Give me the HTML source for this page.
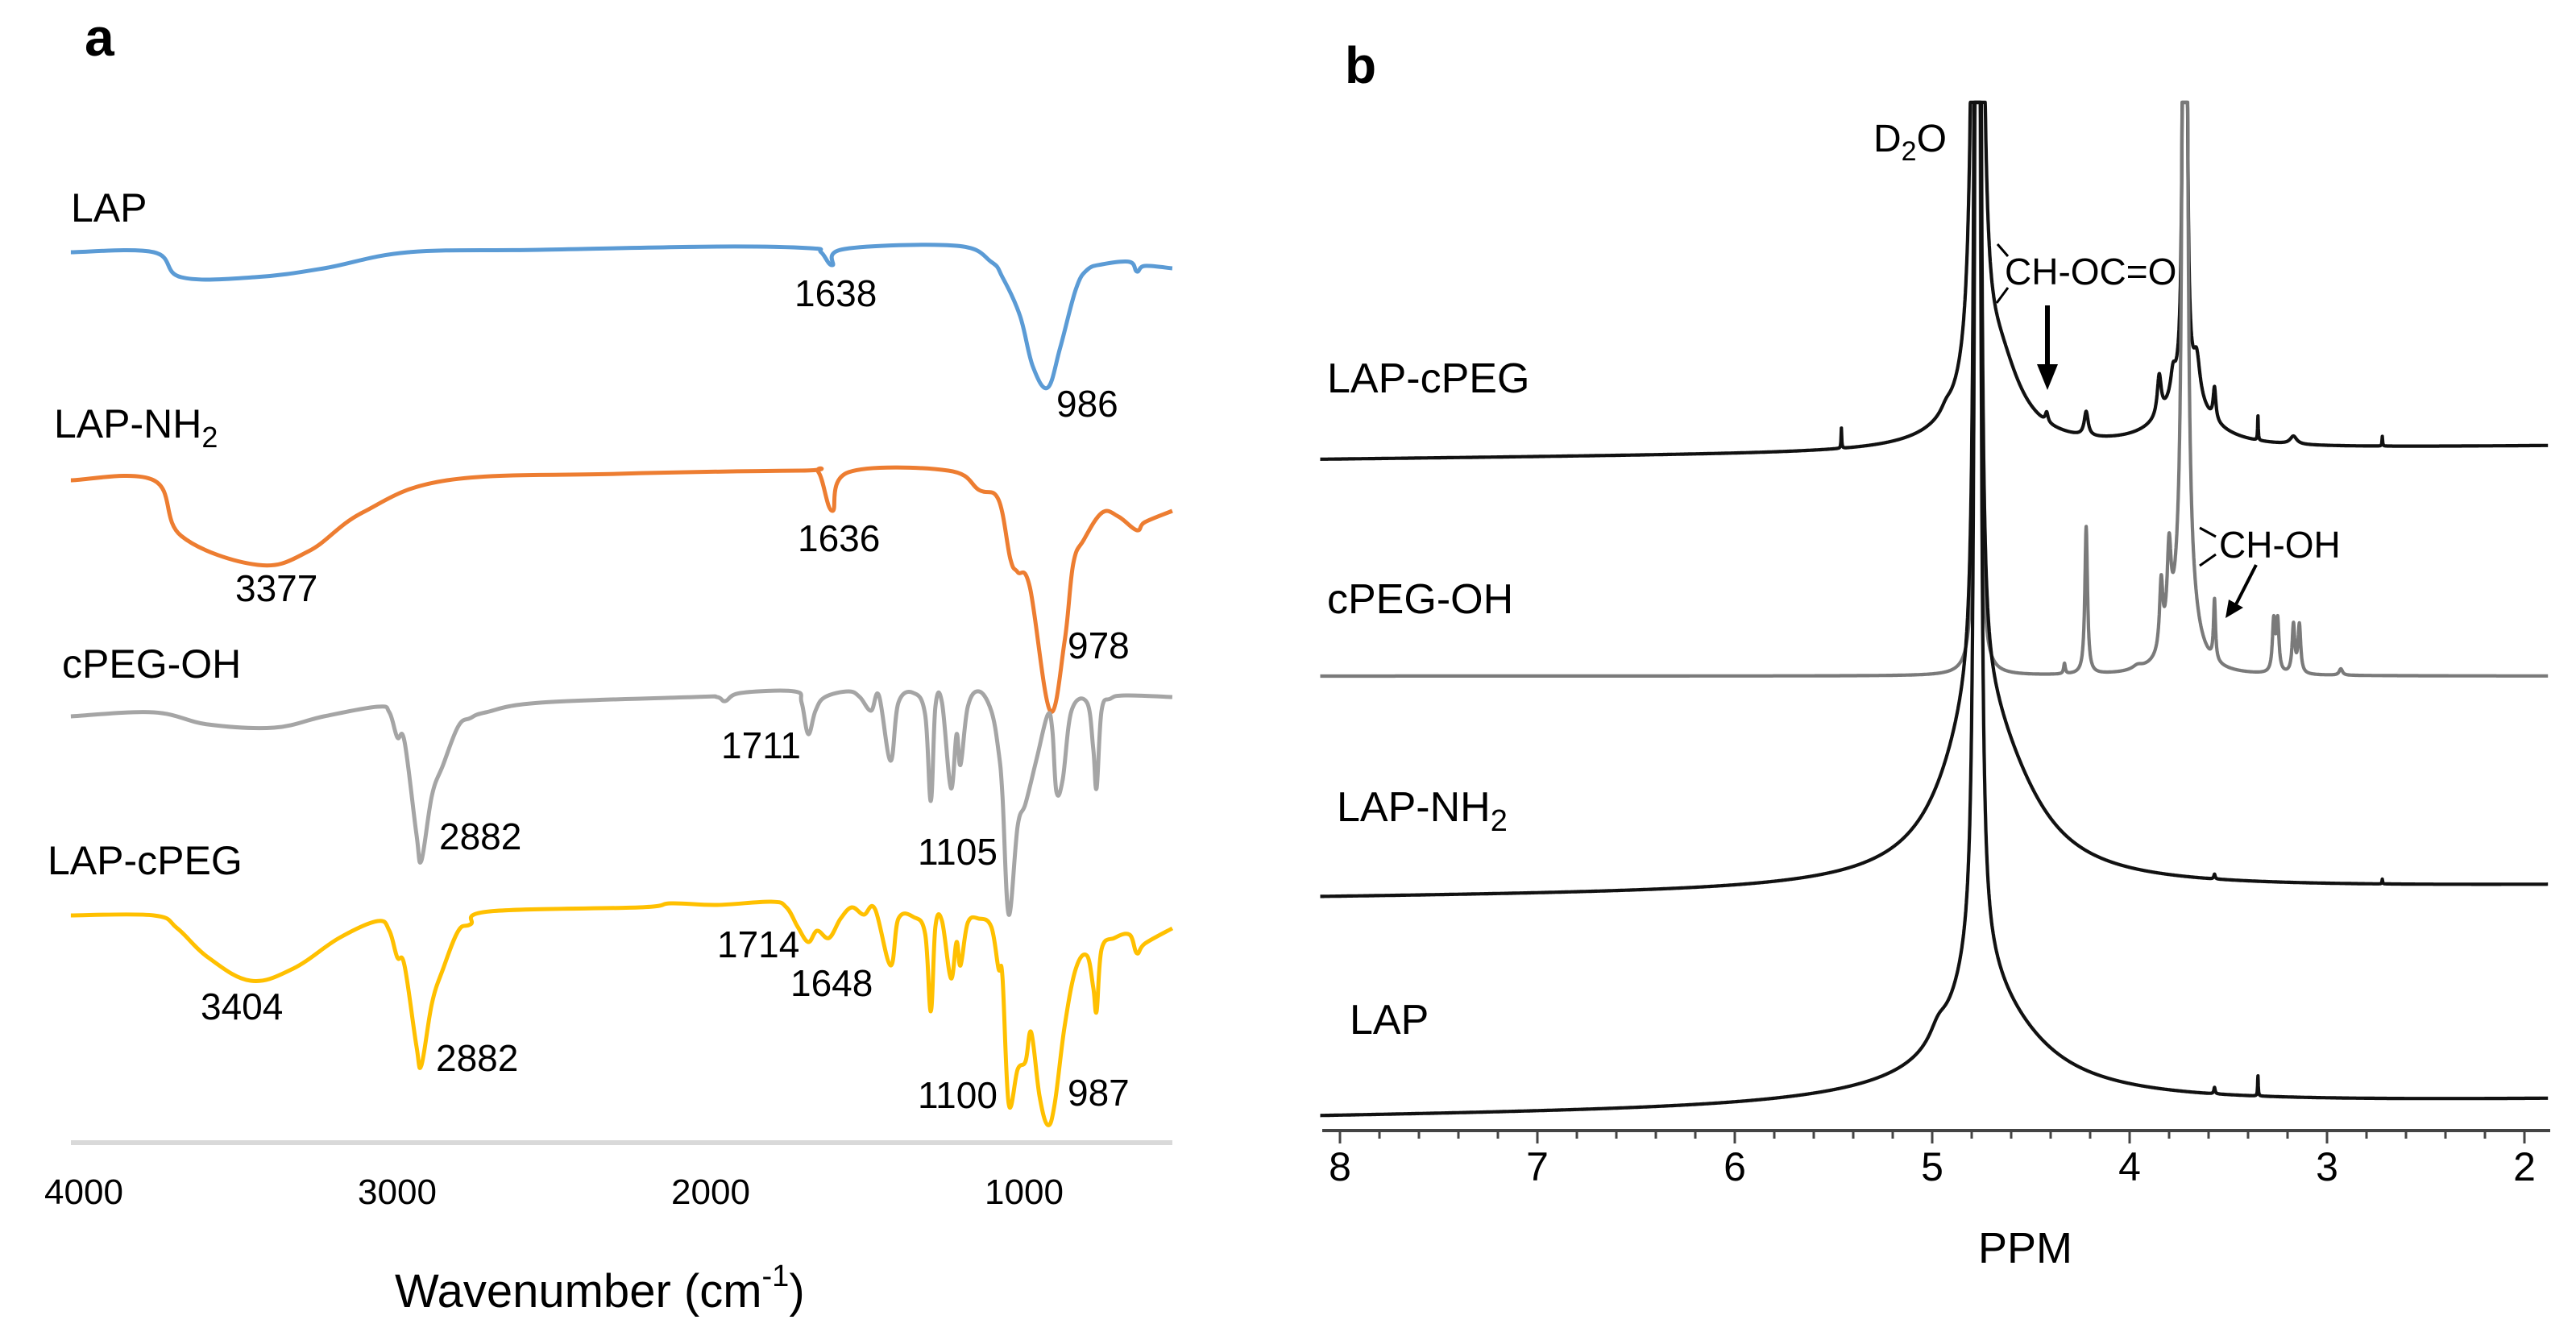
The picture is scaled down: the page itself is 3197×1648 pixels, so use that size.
<!DOCTYPE html>
<html><head><meta charset="utf-8">
<style>
html,body{margin:0;padding:0;background:#fff;}
svg{display:block;}
text{font-family:"Liberation Sans",Arial,sans-serif;fill:#000;}
</style></head>
<body>
<svg id="fig" width="3197" height="1648" viewBox="0 0 3197 1648" xmlns="http://www.w3.org/2000/svg">
  <rect width="3197" height="1648" fill="#fff"/>
  <g id="panelA">
    <text x="105" y="69" font-size="66" font-weight="bold">a</text>
    <line x1="88" y1="1418" x2="1455" y2="1418" stroke="#d9d9d9" stroke-width="6"/>
    <g id="irTicks"></g>
    <text x="490" y="1622" font-size="58">Wavenumber (cm<tspan dy="-26" font-size="38">-1</tspan><tspan dy="26">)</tspan></text>
    <g id="irCurves"></g>
    <text x="88" y="275" font-size="50">LAP</text>
    <text x="67" y="543" font-size="50">LAP-NH<tspan dy="12" font-size="36">2</tspan></text>
    <text x="77" y="841" font-size="50">cPEG-OH</text>
    <text x="59" y="1085" font-size="50">LAP-cPEG</text>
    <g font-size="46">
      <text x="986" y="380">1638</text>
      <text x="1311" y="517">986</text>
      <text x="990" y="684">1636</text>
      <text x="292" y="746">3377</text>
      <text x="1325" y="817">978</text>
      <text x="895" y="941">1711</text>
      <text x="545" y="1054">2882</text>
      <text x="1139" y="1073">1105</text>
      <text x="249" y="1265">3404</text>
      <text x="541" y="1329">2882</text>
      <text x="890" y="1188">1714</text>
      <text x="981" y="1236">1648</text>
      <text x="1139" y="1375">1100</text>
      <text x="1325" y="1372">987</text>
    </g>
  </g>
  <g id="panelB">
    <text x="1669" y="103" font-size="64" font-weight="bold">b</text>
    <g id="nmrCurves"></g>
    <line x1="1641" y1="1403" x2="3165" y2="1403" stroke="#444" stroke-width="4"/>
    <g id="nmrTicks"></g>
    <text x="2455" y="1567" font-size="54">PPM</text>
    <text x="1647" y="487" font-size="52">LAP-cPEG</text>
    <text x="1647" y="761" font-size="52">cPEG-OH</text>
    <text x="1659" y="1019" font-size="52">LAP-NH<tspan dy="12" font-size="38">2</tspan></text>
    <text x="1675" y="1283" font-size="52">LAP</text>
    <text x="2325" y="188" font-size="48">D<tspan dy="11" font-size="34">2</tspan><tspan dy="-11">O</tspan></text>
    <g>
      <text x="2488" y="353" font-size="46">CH-OC=O</text>
      <line x1="2479" y1="303" x2="2492" y2="318" stroke="#000" stroke-width="3"/>
      <line x1="2478" y1="376" x2="2492" y2="357" stroke="#000" stroke-width="3"/>
      <line x1="2541" y1="379" x2="2541" y2="458" stroke="#000" stroke-width="6"/>
      <polygon points="2528,452 2554,452 2541,484" fill="#000"/>
    </g>
    <g>
      <text x="2754" y="692" font-size="46">CH-OH</text>
      <line x1="2730" y1="655" x2="2750" y2="666" stroke="#000" stroke-width="3"/>
      <line x1="2730" y1="702" x2="2750" y2="688" stroke="#000" stroke-width="3"/>
      <line x1="2800" y1="701" x2="2774" y2="752" stroke="#000" stroke-width="4"/>
      <polygon points="2762,767 2766,744 2784,754" fill="#000"/>
    </g>
  </g>
</svg>
<script>
const irTickValues = [4000, 3000, 2000, 1000];
const lapWn = [3943,3692,3609,3387,3177,2921,2523,1987,1706,1672,1638,1601,1262,1157,1123,1070,1031,986,948,901,867,821,738,716,692,609];
const lapDepth = [8,8,39,39,28,8,5,1,3,8,24,4,0,20,39,87,150,176,126,54,30,23,20,32,25,28];
const nh2Wn = [3943,3692,3609,3377,3223,3060,2804,2289,1731,1680,1638,1589,1287,1194,1135,1099,1077,1040,979,935,909,877,821,772,716,692,609];
const nh2Depth = [12,12,81,117,100,52,12,4,0,2,50,2,0,24,36,110,126,145,298,212,116,86,52,57,74,64,50];
const cpegWn = [3943,3692,3528,3328,3177,3014,2979,2955,2933,2897,2882,2850,2816,2770,2733,2687,2523,2057,1987,1962,1916,1753,1731,1711,1689,1660,1589,1555,1521,1497,1462,1438,1392,1357,1340,1326,1306,1279,1262,1250,1228,1194,1157,1135,1123,1104,1077,1053,1018,986,972,960,941,914,867,848,838,823,796,750,609];
const cpegDepth = [31,26,41,45,31,19,26,57,62,177,210,129,91,43,33,26,14,7,7,12,2,0,14,53,24,7,0,7,24,5,86,14,2,29,136,19,14,120,53,91,19,0,24,74,129,277,167,139,81,29,48,124,110,24,14,72,120,24,9,5,7];
const lcWn = [3943,3692,3621,3528,3399,3270,3131,3014,2979,2955,2933,2897,2882,2850,2816,2770,2733,2675,2221,2126,1987,1823,1777,1743,1711,1684,1648,1613,1579,1543,1509,1462,1438,1392,1357,1340,1326,1306,1279,1262,1250,1228,1194,1157,1135,1123,1104,1077,1053,1036,1011,986,965,935,901,867,848,838,823,784,738,716,692,609];
const lcDepth = [15,15,31,67,96,81,43,22,34,67,77,177,201,124,81,34,26,10,5,0,2,-2,5,29,48,34,43,19,5,14,7,77,19,17,38,134,29,22,93,48,77,24,19,29,81,91,249,206,196,160,239,275,249,153,81,65,105,134,57,43,39,62,50,31];
const irBase = [305, 584, 858, 1121];
const irColors = ['#5b9bd5', '#ed7d31', '#a5a5a5', '#ffc000'];
const irNames = ['ir-curve-lap', 'ir-curve-lap-nh2', 'ir-curve-cpeg-oh', 'ir-curve-lap-cpeg'];

const nmrTickValues = [8, 7, 6, 5, 4, 3, 2];
const lcPos = [4.77,4.72,4.66,4.93,4.42,4.22,3.85,3.72,3.72,3.66,3.78,3.57,3.35,3.17,5.46,2.72];
const lcH   = [8000,60,60,8,12,30,50,8000,60,50,30,40,30,10,25,12];
const lcW   = [0.008,0.2,0.12,0.03,0.008,0.012,0.012,0.003,0.15,0.02,0.015,0.008,0.002,0.02,0.002,0.002];
const cpPos = [4.77,4.33,4.22,3.96,3.84,3.80,3.72,3.72,3.57,3.27,3.25,3.17,3.14,2.93];
const cpH   = [8000,13,183,5,85,110,8000,150,75,63,63,60,60,8];
const cpW   = [0.004,0.005,0.008,0.03,0.01,0.012,0.004,0.05,0.006,0.008,0.008,0.008,0.008,0.01];
const nhPos = [4.77,4.77,4.77,4.6,3.57,2.72];
const nhH   = [8000,200,15,50,6,6];
const nhW   = [0.006,0.2,0.8,0.25,0.004,0.002];
const lpPos = [4.77,4.77,4.77,4.97,4.65,3.57,3.35];
const lpH   = [8000,110,25,18,60,8,25];
const lpW   = [0.006,0.15,0.8,0.05,0.3,0.004,0.002];
const nmrBaseLeft = [570, 839, 1114, 1386];
const nmrBaseRight = [554, 839, 1100, 1366];
const nmrColors = ['#111', '#7a7a7a', '#111', '#111'];
const nmrNames = ['nmr-curve-lap-cpeg', 'nmr-curve-cpeg-oh', 'nmr-curve-lap-nh2', 'nmr-curve-lap'];

const NS = 'http://www.w3.org/2000/svg';
function irX(w) { return 320 + (3377 - w) * 0.41; }
function irTickX(v) { return 104 + (4000 - v) * 0.389; }
function irY(i, d) { return irBase[i] + d; }
function nmrX(p) { return 1663 + (8 - p) * 245; }
const NMR_TOP = 127;

function smoothPath(P) {
  let d = 'M' + P[0][0].toFixed(1) + ',' + P[0][1].toFixed(1);
  for (let i = 0; i < P.length - 1; i++) {
    const p0 = P[Math.max(0, i - 1)], p1 = P[i], p2 = P[i + 1], p3 = P[Math.min(P.length - 1, i + 2)];
    const t = 0.18;
    const c1x = p1[0] + (p2[0] - p0[0]) * t, c1y = p1[1] + (p2[1] - p0[1]) * t;
    const c2x = p2[0] - (p3[0] - p1[0]) * t, c2y = p2[1] - (p3[1] - p1[1]) * t;
    d += ' C' + c1x.toFixed(1) + ',' + c1y.toFixed(1) + ' ' + c2x.toFixed(1) + ',' + c2y.toFixed(1) + ' ' + p2[0].toFixed(1) + ',' + p2[1].toFixed(1);
  }
  return d;
}

const irTicks = document.getElementById('irTicks');
irTickValues.forEach(function (v) {
  const t = document.createElementNS(NS, 'text');
  t.setAttribute('x', irTickX(v));
  t.setAttribute('y', 1494);
  t.setAttribute('font-size', 44);
  t.setAttribute('text-anchor', 'middle');
  t.textContent = String(v);
  
  
  irTicks.appendChild(t);
});

const irSeries = [[lapWn, lapDepth], [nh2Wn, nh2Depth], [cpegWn, cpegDepth], [lcWn, lcDepth]];
const irG = document.getElementById('irCurves');
irSeries.forEach(function (s, i) {
  const P = s[0].map(function (w, k) { return [irX(w), irY(i, s[1][k])]; });
  const pa = document.createElementNS(NS, 'path');
  pa.setAttribute('d', smoothPath(P));
  pa.setAttribute('fill', 'none');
  pa.setAttribute('stroke', irColors[i]);
  pa.setAttribute('stroke-width', 5);
  pa.setAttribute('stroke-linejoin', 'round');
  
  
  irG.appendChild(pa);
});

const nmrTicks = document.getElementById('nmrTicks');
for (let p = 8; p >= 1.99; p -= 0.2) {
  const pr = Math.round(p * 10) / 10;
  const major = Math.abs(pr - Math.round(pr)) < 1e-6;
  const l = document.createElementNS(NS, 'line');
  l.setAttribute('x1', nmrX(pr)); l.setAttribute('x2', nmrX(pr));
  l.setAttribute('y1', 1403); l.setAttribute('y2', major ? 1419 : 1413);
  l.setAttribute('stroke', '#444'); l.setAttribute('stroke-width', 3);
  
  
  nmrTicks.appendChild(l);
}
nmrTickValues.forEach(function (v) {
  const t = document.createElementNS(NS, 'text');
  t.setAttribute('x', nmrX(v));
  t.setAttribute('y', 1465);
  t.setAttribute('font-size', 50);
  t.setAttribute('text-anchor', 'middle');
  t.textContent = String(v);
  
  
  nmrTicks.appendChild(t);
});

const nmrSeries = [[lcPos, lcH, lcW], [cpPos, cpH, cpW], [nhPos, nhH, nhW], [lpPos, lpH, lpW]];
const nmrG = document.getElementById('nmrCurves');
nmrSeries.forEach(function (s, i) {
  const pts = [];
  for (let p = 8.1; p >= 1.88; p -= 0.001) {
    let sig = 0;
    for (let k = 0; k < s[0].length; k++) {
      const dx = p - s[0][k], w2 = s[2][k] * s[2][k];
      sig += s[1][k] * w2 / (dx * dx + w2);
    }
    const base = nmrBaseLeft[i] + (nmrBaseRight[i] - nmrBaseLeft[i]) * (8 - p) / 6;
    const y = Math.max(NMR_TOP, base - sig);
    pts.push(nmrX(p).toFixed(1) + ',' + y.toFixed(1));
  }
  const pl = document.createElementNS(NS, 'polyline');
  pl.setAttribute('points', pts.join(' '));
  pl.setAttribute('fill', 'none');
  pl.setAttribute('stroke', nmrColors[i]);
  pl.setAttribute('stroke-width', 4.2);
  pl.setAttribute('stroke-linejoin', 'round');
  
  
  nmrG.appendChild(pl);
});
</script>
</body></html>
